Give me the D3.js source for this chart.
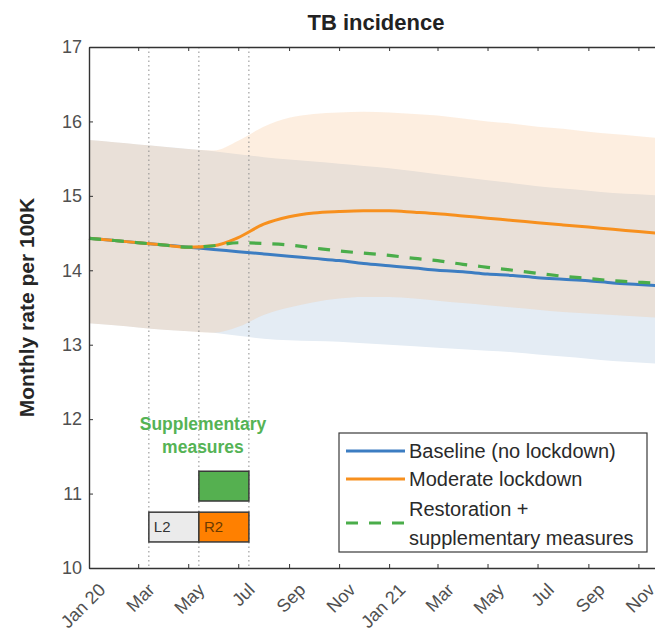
<!DOCTYPE html>
<html>
<head>
<meta charset="utf-8">
<script src="https://cdn.jsdelivr.net/npm/d3@7/dist/d3.min.js"></script>
<style>
  body { margin: 0; background: #fff; }
  svg { display: block; font-family: "Liberation Sans", Arial, sans-serif; }
</style>
</head>
<body>
<svg id="chart" width="655" height="640"></svg>
<script>
// monthly time points, Jan 2020 .. Dec 2021
const months = ['2020-01-01','2020-02-01','2020-03-01','2020-04-01','2020-05-01','2020-06-01',
  '2020-07-01','2020-08-01','2020-09-01','2020-10-01','2020-11-01','2020-12-01',
  '2021-01-01','2021-02-01','2021-03-01','2021-04-01','2021-05-01','2021-06-01',
  '2021-07-01','2021-08-01','2021-09-01','2021-10-01','2021-11-01','2021-12-01'];

const baseline = [14.43,14.40,14.37,14.34,14.31,14.28,14.25,14.22,14.19,14.16,14.13,14.09,
  14.06,14.03,14.00,13.98,13.95,13.93,13.90,13.88,13.86,13.83,13.81,13.79];
const moderate = [14.43,14.40,14.37,14.34,14.31,14.33,14.44,14.62,14.72,14.77,14.79,14.80,
  14.80,14.78,14.76,14.73,14.70,14.67,14.64,14.61,14.58,14.55,14.52,14.49];
const restoration = [14.43,14.40,14.37,14.34,14.31,14.33,14.37,14.36,14.34,14.30,14.26,14.23,
  14.20,14.16,14.13,14.08,14.04,14.00,13.96,13.92,13.89,13.86,13.84,13.82];

const baselineHi = [15.75,15.72,15.69,15.66,15.63,15.60,15.56,15.52,15.49,15.46,15.43,15.40,
  15.37,15.33,15.29,15.25,15.21,15.17,15.13,15.10,15.07,15.04,15.02,15.00];
const baselineLo = [13.29,13.26,13.23,13.20,13.18,13.16,13.12,13.08,13.06,13.05,13.04,13.02,
  13.00,12.98,12.96,12.94,12.92,12.90,12.87,12.84,12.81,12.78,12.76,12.74];
const moderateHi = [15.75,15.72,15.69,15.66,15.63,15.61,15.74,15.93,16.05,16.10,16.12,16.13,
  16.12,16.10,16.08,16.04,16.00,15.97,15.93,15.90,15.86,15.83,15.80,15.77];
const moderateLo = [13.29,13.26,13.23,13.20,13.18,13.16,13.24,13.40,13.50,13.57,13.62,13.64,
  13.64,13.62,13.59,13.56,13.53,13.50,13.47,13.44,13.42,13.40,13.38,13.36];

const tickDates = ['2020-01-01','2020-03-01','2020-05-01','2020-07-01','2020-09-01','2020-11-01',
  '2021-01-01','2021-03-01','2021-05-01','2021-07-01','2021-09-01','2021-11-01'];
const tickLabels = ['Jan 20','Mar','May','Jul','Sep','Nov','Jan 21','Mar','May','Jul','Sep','Nov'];
const yTicks = [10, 11, 12, 13, 14, 15, 16, 17];

// period markers (dotted lines) and the phase boxes
const markerDates = ['2020-03-14', '2020-05-14', '2020-07-14'];
const phases = [
  { label: 'L2', start: '2020-03-14', end: '2020-05-14', lo: 10.35, hi: 10.75 },
  { label: 'R2', start: '2020-05-14', end: '2020-07-14', lo: 10.35, hi: 10.75 },
  { label: '',   start: '2020-05-14', end: '2020-07-14', lo: 10.9,  hi: 11.3 }
];

const parse = d3.utcParse('%Y-%m-%d');
const dates = months.map(parse);

const margin = { top: 47, left: 89 };
const plotRight = 663, plotBottom = 568;

const x = d3.scaleUtc()
  .domain([parse('2020-01-01'), parse('2021-12-01')])
  .range([margin.left, plotRight]);
const y = d3.scaleLinear().domain([10, 17]).range([plotBottom, margin.top]);

const svg = d3.select('#chart');

const area = (hi, lo) => d3.area()
  .x((d, i) => x(dates[i]))
  .y0((d, i) => y(lo[i]))
  .y1((d, i) => y(hi[i]))
  .curve(d3.curveMonotoneX);

const line = d3.line()
  .x((d, i) => x(dates[i]))
  .y(d => y(d))
  .curve(d3.curveMonotoneX);

// uncertainty bands
svg.append('path').datum(baselineHi)
  .attr('d', area(baselineHi, baselineLo))
  .attr('fill', 'rgb(228,236,244)');
svg.append('path').datum(moderateHi)
  .attr('d', area(moderateHi, moderateLo))
  .attr('fill', 'rgb(247,187,131)')
  .attr('fill-opacity', 0.25);

// dotted period lines
svg.append('g').selectAll('line')
  .data(markerDates)
  .join('line')
  .attr('x1', d => x(parse(d)))
  .attr('x2', d => x(parse(d)))
  .attr('y1', y(17))
  .attr('y2', y(10))
  .attr('stroke', '#8c8c8c')
  .attr('stroke-width', 1)
  .attr('stroke-dasharray', '1.5,3');

// scenario lines
svg.append('path').datum(baseline)
  .attr('d', line).attr('fill', 'none')
  .attr('stroke', '#3c7dc2').attr('stroke-width', 3);
svg.append('path').datum(moderate)
  .attr('d', line).attr('fill', 'none')
  .attr('stroke', '#f7901e').attr('stroke-width', 3);
svg.append('path').datum(restoration)
  .attr('d', line).attr('fill', 'none')
  .attr('stroke', '#4aad4a').attr('stroke-width', 3.2)
  .attr('stroke-dasharray', '12,11');

// phase boxes
const boxFill = { L2: '#ebebeb', R2: '#ff8000', '': '#55b050' };
const boxes = svg.append('g');
boxes.selectAll('rect')
  .data(phases)
  .join('rect')
  .attr('x', d => x(parse(d.start)))
  .attr('y', d => y(d.hi))
  .attr('width', d => x(parse(d.end)) - x(parse(d.start)))
  .attr('height', d => y(d.lo) - y(d.hi))
  .attr('fill', d => boxFill[d.label])
  .attr('stroke', '#3a3a3a')
  .attr('stroke-width', 1.5);
boxes.selectAll('text')
  .data(phases.filter(d => d.label))
  .join('text')
  .attr('x', d => x(parse(d.start)) + 5)
  .attr('y', d => y((d.lo + d.hi) / 2))
  .attr('dy', '0.36em')
  .attr('font-size', 15)
  .attr('fill', d => d.label === 'R2' ? '#6b3a00' : '#333')
  .text(d => d.label);

svg.append('text')
  .attr('text-anchor', 'middle')
  .attr('font-size', 17.5)
  .attr('font-weight', 'bold')
  .attr('fill', '#55b355')
  .selectAll('tspan')
  .data(['Supplementary', 'measures'])
  .join('tspan')
  .attr('x', x(parse('2020-05-19')))
  .attr('y', (d, i) => y(11.85) + i * 23)
  .text(d => d);

// axes
const gx = svg.append('g')
  .attr('transform', `translate(0,${plotBottom})`)
  .call(d3.axisBottom(x).tickValues(tickDates.map(parse)).tickSizeInner(-4).tickSizeOuter(0).tickFormat(''));

svg.append('g')
  .attr('transform', `translate(0,${margin.top})`)
  .call(d3.axisTop(x).tickValues(tickDates.map(parse)).tickSizeInner(-4).tickSizeOuter(0).tickFormat(''));

const gy = svg.append('g')
  .attr('transform', `translate(${margin.left},0)`)
  .call(d3.axisLeft(y).tickValues(yTicks).tickFormat(d3.format('d'))
    .tickSizeInner(-4).tickSizeOuter(0).tickPadding(7));

svg.selectAll('.domain').attr('stroke', '#333').attr('stroke-width', 1.4);
svg.selectAll('.tick line').attr('stroke', '#333');
gy.selectAll('text')
  .attr('font-size', 18)
  .attr('font-family', '"Liberation Sans", Arial, sans-serif')
  .attr('fill', '#505050');

gx.selectAll('.tick text').remove();
gx.selectAll('.tick')
  .append('text')
  .attr('transform', 'translate(17,23) rotate(-45)')
  .attr('text-anchor', 'end')
  .attr('font-size', 18)
  .attr('font-family', '"Liberation Sans", Arial, sans-serif')
  .attr('fill', '#505050')
  .text((d, i) => tickLabels[i]);

// title and y label
svg.append('text')
  .attr('x', (margin.left + plotRight) / 2)
  .attr('y', 30)
  .attr('text-anchor', 'middle')
  .attr('font-size', 22)
  .attr('font-weight', 'bold')
  .attr('fill', '#222')
  .text('TB incidence');

svg.append('text')
  .attr('transform', `translate(27,${(margin.top + plotBottom) / 2}) rotate(-90)`)
  .attr('text-anchor', 'middle')
  .attr('dy', '0.35em')
  .attr('font-size', 21)
  .attr('font-weight', 'bold')
  .attr('fill', '#262626')
  .text('Monthly rate per 100K');

// legend
const legend = svg.append('g');
legend.append('rect')
  .attr('x', 339).attr('y', 433)
  .attr('width', 308).attr('height', 119)
  .attr('fill', '#fff')
  .attr('stroke', '#3a3a3a')
  .attr('stroke-width', 1.2);

const legendItems = [
  { color: '#3c7dc2', dash: null, lines: ['Baseline (no lockdown)'], y: 451 },
  { color: '#f7901e', dash: null, lines: ['Moderate lockdown'], y: 479 },
  { color: '#4aad4a', dash: '12,11', lines: ['Restoration +', 'supplementary measures'], y: 523 }
];
legendItems.forEach(item => {
  legend.append('line')
    .attr('x1', 346).attr('x2', 405)
    .attr('y1', item.y).attr('y2', item.y)
    .attr('stroke', item.color)
    .attr('stroke-width', 3.2)
    .attr('stroke-dasharray', item.dash);
  const t = legend.append('text')
    .attr('font-size', 20)
    .attr('fill', '#2a2a2a');
  item.lines.forEach((s, i) => {
    const n = item.lines.length;
    t.append('tspan')
      .attr('x', 409)
      .attr('y', item.y + (i - (n - 1) / 2) * 29)
      .attr('dy', '0.35em')
      .text(s);
  });
});
</script>
</body>
</html>
